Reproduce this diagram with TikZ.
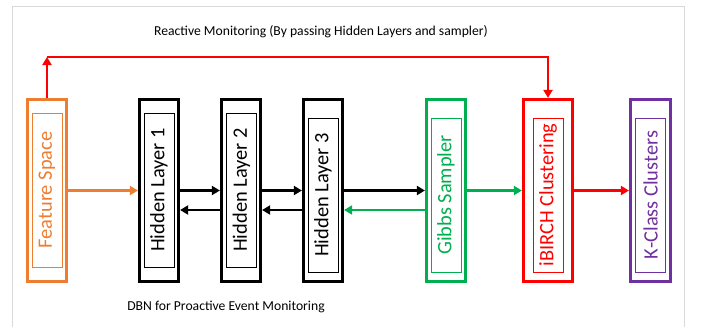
\documentclass[tikz,border=0pt]{standalone}
\usepackage{fontspec}
\setmainfont{Carlito}
\usetikzlibrary{arrows.meta}
\definecolor{cOrange}{HTML}{ED7D31}
\definecolor{cGreen}{HTML}{00B050}
\definecolor{cRed}{HTML}{FF0000}
\definecolor{cPurple}{HTML}{7030A0}
\definecolor{cFrame}{HTML}{D9D9D9}
\begin{document}
\begin{tikzpicture}[x=1bp,y=-1bp,
  outerbox/.style={draw=#1, line width=3.2bp, minimum width=39bp, minimum height=182bp, inner sep=0pt},
  innerbox/.style={draw=#1, text=#1, line width=0.8bp, rotate=90, minimum width=154bp, minimum height=30bp, inner sep=0pt, font=\fontsize{20.5}{22}\selectfont},
  arr/.style={draw=#1, line width=2.8bp, -{Triangle[length=8bp,width=9bp]}},
  lbl/.style={font=\fontsize{13.7}{16}\selectfont, inner sep=0pt}
]
\useasboundingbox (0,0) rectangle (702,327);
\draw[cFrame, line width=0.8bp] (12,327) -- (12,6) -- (684,6) -- (684,327);

% outer boxes
\node[outerbox=cOrange] (fs) at (47,190.5) {};
\node[outerbox=black] (h1) at (159,190.5) {};
\node[outerbox=black] (h2) at (241,190.5) {};
\node[outerbox=black] (h3) at (323,190.5) {};
\node[outerbox=cGreen] (gs) at (446,190.5) {};
\node[outerbox=cRed, minimum width=49bp] (ib) at (548,190.5) {};
\node[outerbox=cPurple, minimum width=40bp] (kc) at (650.5,190.5) {};

% inner boxes with labels
\node[innerbox=cOrange] (fsi) at (47,190) {Feature Space};
\node[innerbox=black] (h1i) at (159,190) {Hidden Layer 1};
\node[innerbox=black] (h2i) at (241.5,190) {Hidden Layer 2};
\node[innerbox=black] (h3i) at (323,195) {Hidden Layer 3};
\node[innerbox=cGreen] (gsi) at (446,195) {Gibbs Sampler};
\node[innerbox=cRed] (ibi) at (548,195) {iBIRCH Clustering};
\node[innerbox=cPurple] (kci) at (650.5,195) {K-Class Clusters};

% forward arrows
\draw[arr=cOrange] (fs.east) -- (h1.west);
\draw[arr=black] (h1.east) -- (h2.west);
\draw[arr=black] (h2.east) -- (h3.west);
\draw[arr=black] (h3.east) -- (gs.west);
\draw[arr=cGreen] (gs.east) -- (ib.west);
\draw[arr=cRed] (ib.east) -- (kc.west);

% backward arrows
\draw[arr=black] ([yshift=-19.5bp]h2.west) -- ([yshift=-19.5bp]h1.east);
\draw[arr=black] ([yshift=-19.5bp]h3.west) -- ([yshift=-19.5bp]h2.east);
\draw[arr=cGreen] ([yshift=-19.5bp]gs.west) -- ([yshift=-19.5bp]h3.east);

% reactive monitoring path
\coordinate (c1) at (47,57);
\coordinate (c2) at (548,57);
\draw[arr=cRed] (fs.north) -- (c1);
\draw[arr=cRed] (c1) -- (c2) -- (ib.north);

\node[lbl] (t1) at (321,32) {Reactive Monitoring (By passing Hidden Layers and sampler)};
\node[lbl] (t2) at (226,307) {DBN for Proactive Event Monitoring};
\end{tikzpicture}
\end{document}
